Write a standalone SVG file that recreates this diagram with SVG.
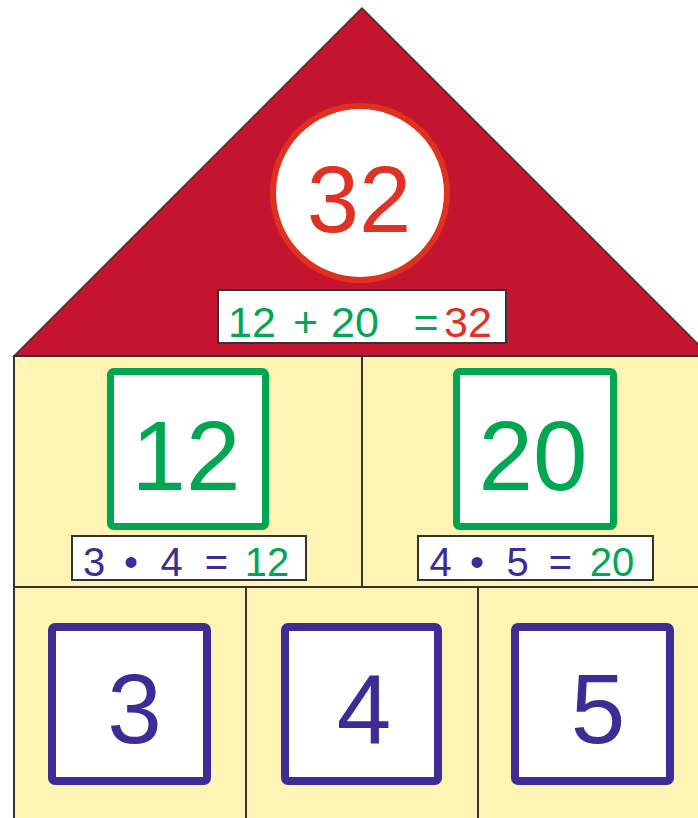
<svg xmlns="http://www.w3.org/2000/svg" width="698" height="818" viewBox="0 0 698 818">
  <style>
    .num { font-family: "Liberation Sans", Arial, sans-serif; text-anchor: middle; }
    .big { font-size: 98px; }
    .eq { font-size: 40px; }
    .eqtop { font-size: 43px; }
    .red { fill: #E03124; }
    .green { fill: #00A651; }
    .purple { fill: #3D2B96; }
    .wall { fill: #FFF4B3; stroke: #333333; stroke-width: 2; }
    .line { stroke: #333333; stroke-width: 2; fill: none; }
    .gbox { fill: #FFFFFF; stroke: #00A651; stroke-width: 7; }
    .pbox { fill: #FFFFFF; stroke: #3D2B96; stroke-width: 8; }
    .eqbox { fill: #FFFFFF; stroke: #333333; stroke-width: 2; }
  </style>
  <rect width="698" height="818" fill="#FFFFFF"/>

  <g id="roof">
    <polygon points="362,8 14,356 710,356" fill="#C41430" stroke="#333333" stroke-width="1.5"/>
  </g>

  <g id="floor-middle">
    <rect class="wall" x="14" y="356" width="700" height="231"/>
  </g>
  <g id="floor-bottom">
    <rect class="wall" x="14" y="587" width="700" height="240"/>
  </g>

  <g id="connectors">
    <line class="line" x1="362" y1="356" x2="362" y2="587"/>
    <line class="line" x1="246" y1="587" x2="246" y2="818"/>
    <line class="line" x1="478" y1="587" x2="478" y2="818"/>
  </g>

  <g id="node-32">
    <circle cx="360" cy="193" r="87" fill="#FFFFFF" stroke="#E0301E" stroke-width="6"/>
    <text class="num red" x="359" y="232" font-size="94">32</text>
  </g>

  <g id="eq-top">
    <rect class="eqbox" x="218" y="290" width="288" height="53"/>
    <text class="num eqtop green" x="252" y="337">12</text>
    <text class="num eqtop green" x="305.5" y="337">+</text>
    <text class="num eqtop green" x="355" y="337">20</text>
    <text class="num eqtop green" x="426" y="337">=</text>
    <text class="num eqtop red" x="468" y="337">32</text>
  </g>

  <g id="node-12">
    <rect class="gbox" x="110.5" y="371.5" width="155" height="155" rx="3"/>
    <text class="num big green" x="186" y="490">12</text>
  </g>

  <g id="node-20">
    <rect class="gbox" x="456.5" y="371.5" width="157" height="155" rx="3"/>
    <text class="num big green" x="533" y="490">20</text>
  </g>

  <g id="eq-12">
    <rect class="eqbox" x="72" y="536" width="234" height="44"/>
    <text class="num eq purple" x="94" y="576">3</text>
    <text class="num eq purple" x="131" y="576">•</text>
    <text class="num eq purple" x="171.5" y="576">4</text>
    <text class="num eq purple" x="216.5" y="576">=</text>
    <text class="num eq green" x="267" y="576">12</text>
  </g>

  <g id="eq-20">
    <rect class="eqbox" x="418" y="536" width="235" height="44"/>
    <text class="num eq purple" x="440.5" y="576">4</text>
    <text class="num eq purple" x="477" y="576">•</text>
    <text class="num eq purple" x="517.5" y="576">5</text>
    <text class="num eq purple" x="560.5" y="576">=</text>
    <text class="num eq green" x="612" y="576">20</text>
  </g>

  <g id="node-3">
    <rect class="pbox" x="52" y="627" width="155" height="154" rx="3"/>
    <text class="num big purple" x="134.5" y="743">3</text>
  </g>

  <g id="node-4">
    <rect class="pbox" x="285" y="627" width="153" height="154" rx="3"/>
    <text class="num big purple" x="364" y="743">4</text>
  </g>

  <g id="node-5">
    <rect class="pbox" x="515" y="627" width="155" height="154" rx="3"/>
    <text class="num big purple" x="598" y="743">5</text>
  </g>
</svg>
